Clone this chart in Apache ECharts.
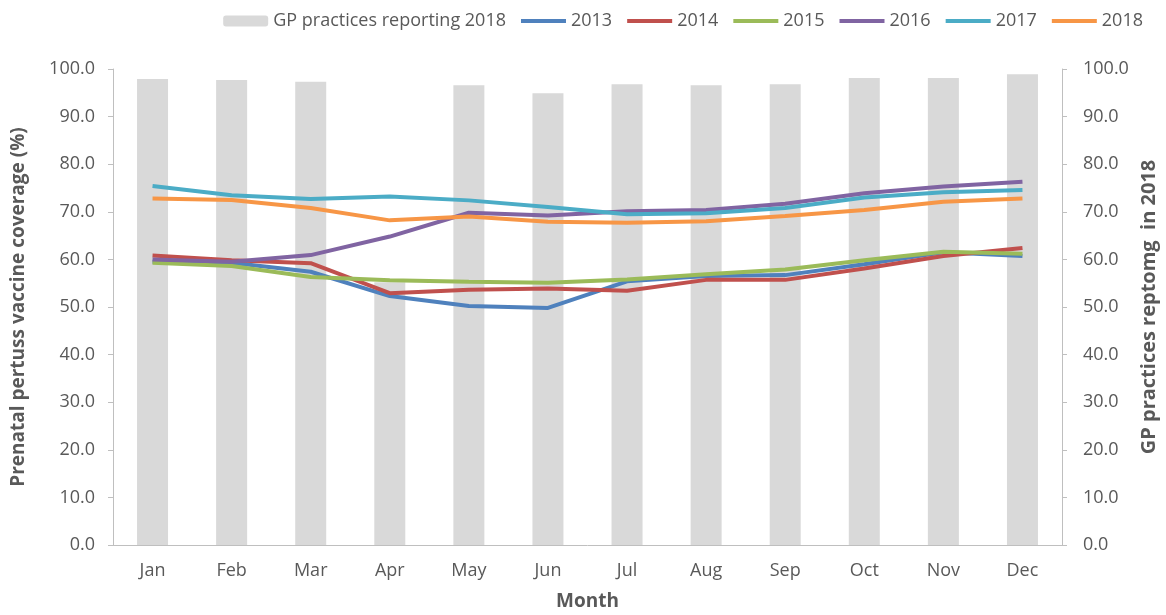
<!DOCTYPE html>
<html>
<head>
<meta charset="utf-8">
<script src="https://cdn.jsdelivr.net/npm/echarts@6/dist/echarts.min.js"></script>
<style>
html, body { margin: 0; padding: 0; background: #fff; }
#chart { width: 1166px; height: 615px; }
</style>
</head>
<body>
<div id="chart"></div>
<script>
var months = ['Jan', 'Feb', 'Mar', 'Apr', 'May', 'Jun', 'Jul', 'Aug', 'Sep', 'Oct', 'Nov', 'Dec'];
var gpReporting = [97.9, 97.7, 97.3, 55.2, 96.6, 94.9, 96.8, 96.6, 96.8, 98.1, 98.1, 98.9];
var y2013 = [59.5, 59.3, 57.4, 52.3, 50.2, 49.8, 55.4, 56.5, 56.7, 59.0, 61.5, 60.7];
var y2014 = [60.8, 59.8, 59.2, 52.9, 53.6, 53.9, 53.4, 55.7, 55.7, 58.1, 60.7, 62.4];
var y2015 = [59.3, 58.6, 56.3, 55.6, 55.3, 55.1, 55.8, 56.9, 57.9, 59.8, 61.6, 61.2];
var y2016 = [60.0, 59.5, 60.9, 64.8, 69.8, 69.2, 70.1, 70.4, 71.7, 73.9, 75.3, 76.3];
var y2017 = [75.4, 73.5, 72.7, 73.2, 72.4, 71.0, 69.5, 69.7, 70.8, 73.0, 74.1, 74.6];
var y2018 = [72.8, 72.5, 70.8, 68.2, 69.0, 67.9, 67.7, 68.0, 69.1, 70.4, 72.1, 72.8];

var lineColors = ['#4F81BD', '#C0504D', '#9BBB59', '#8064A2', '#4BACC6', '#F79646'];
var lineNames = ['2013', '2014', '2015', '2016', '2017', '2018'];
var lineData = [y2013, y2014, y2015, y2016, y2017, y2018];

var font = "'Open Sans', 'DejaVu Sans', sans-serif";
var txt = '#595959';

var series = [{
    name: 'GP practices reporting 2018',
    type: 'bar',
    yAxisIndex: 1,
    barWidth: 31,
    itemStyle: { color: '#D9D9D9' },
    data: gpReporting
}];
lineNames.forEach(function (n, i) {
    series.push({
        name: n,
        type: 'line',
        symbol: 'none',
        lineStyle: { width: 4, color: lineColors[i] },
        // transparent so the legend shows just the line, no marker
        itemStyle: { color: 'rgba(0,0,0,0)' },
        data: lineData[i]
    });
});

function yAxis(name, pos) {
    var left = pos === 'left';
    return {
        type: 'value',
        position: pos,
        min: 0,
        max: 100,
        interval: 10,
        name: name,
        nameLocation: 'middle',
        nameRotate: 90,
        nameGap: left ? 85 : 76,
        nameTextStyle: { fontFamily: font, fontSize: left ? 19 : 20, fontWeight: 'bold', color: txt },
        axisLine: { show: true, lineStyle: { color: '#BFBFBF', width: 1 } },
        axisTick: { show: true, length: 5, lineStyle: { color: '#BFBFBF' } },
        axisLabel: {
            fontFamily: font, fontSize: 18, color: txt, margin: left ? 18 : 21,
            formatter: function (v) { return v.toFixed(1); }
        },
        splitLine: { show: false }
    };
}

var option = {
    backgroundColor: '#FFF',
    animation: false,
    legend: {
        right: 18,
        top: 7,
        itemGap: 13,
        itemWidth: 45,
        itemHeight: 11,
        lineStyle: { width: 4 },
        textStyle: { fontFamily: font, fontSize: 18, color: txt },
        data: ['GP practices reporting 2018'].concat(lineNames)
    },
    grid: { left: 113, right: 104, top: 69, bottom: 70, outerBoundsMode: 'none' },
    xAxis: {
        type: 'category',
        data: months,
        name: 'Month',
        nameLocation: 'middle',
        nameGap: 47,
        nameTextStyle: { fontFamily: font, fontSize: 19, fontWeight: 'bold', color: txt },
        axisLine: { lineStyle: { color: '#BFBFBF' } },
        axisTick: { show: false },
        axisLabel: { fontFamily: font, fontSize: 18, color: txt, margin: 17 }
    },
    yAxis: [
        yAxis('Prenatal pertuss vaccine coverage (%)', 'left'),
        yAxis('GP practices reptomg  in 2018', 'right')
    ],
    series: series
};

echarts.init(document.getElementById('chart')).setOption(option);
</script>
</body>
</html>
